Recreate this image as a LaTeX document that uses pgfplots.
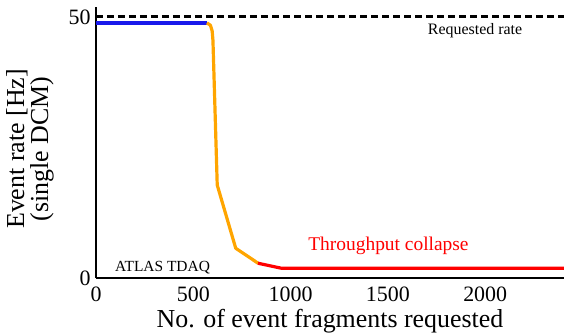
\documentclass[border=0pt]{standalone}
\usepackage{fontspec}
\setmainfont{Liberation Serif}
\usepackage{pgfplots}
\pgfplotsset{compat=1.18}
\definecolor{cblue}{RGB}{25,25,235}
\definecolor{corange}{RGB}{255,165,0}
\definecolor{cred}{RGB}{255,0,0}
\begin{document}
\begin{tikzpicture}
\begin{axis}[
 scale only axis, width=468bp, height=271bp,
 xmin=0, xmax=2405, ymin=0, ymax=51.9,
 axis lines=left,
 axis line style={line width=2bp, -},
 xtick={0,500,1000,1500,2000}, ytick={0,50},
 major tick length=0pt,
 /pgf/number format/assume math mode=true,
 /pgf/number format/set thousands separator={},
 ticklabel style={font=\fontsize{22}{24}\selectfont},
 xticklabel style={anchor=base, yshift=-23bp},
 yticklabel style={anchor=east, xshift=-2bp},
 xlabel={No. of event fragments requested},
 xlabel style={at={(axis description cs:0.5,-0.1845)}, anchor=base, font=\fontsize{26}{26}\selectfont},
 ylabel={Event rate [Hz]\\(single DCM)},
 ylabel style={at={(axis description cs:-0.141,0.476)}, anchor=center, align=center, font=\fontsize{26}{24}\selectfont},
 clip=false,
]
\coordinate (O) at (rel axis cs:0,0);
\addplot[black, line width=3bp, dash pattern=on 7bp off 4bp] coordinates {(0,50) (2405,50)};
\addplot[cblue, line width=3.2bp] coordinates {(0,48.85) (572,48.85)};
\addplot[corange, line width=3.2bp, line join=round] coordinates {(570,48.85) (588,48.4) (597,47.3) (601,45.5) (623,17.8) (718,5.7) (834,2.8)};
\addplot[cred, line width=3.2bp, line join=round] coordinates {(832,2.83) (954,1.86) (2405,1.86)};
\node[anchor=base, font=\fontsize{16}{18}\selectfont] at (axis cs:1948,46.55) {Requested rate};
\node[anchor=base, text=cred, font=\fontsize{19.5}{22}\selectfont] at (axis cs:1503,5.36) {Throughput collapse};
\node[anchor=base, font=\fontsize{15.5}{18}\selectfont] at (axis cs:342,1.2) {ATLAS TDAQ};
\end{axis}
\pgfresetboundingbox
\path[use as bounding box] (O) ++(-96bp,-57bp) rectangle ++(564bp,335bp);
\end{tikzpicture}
\end{document}
